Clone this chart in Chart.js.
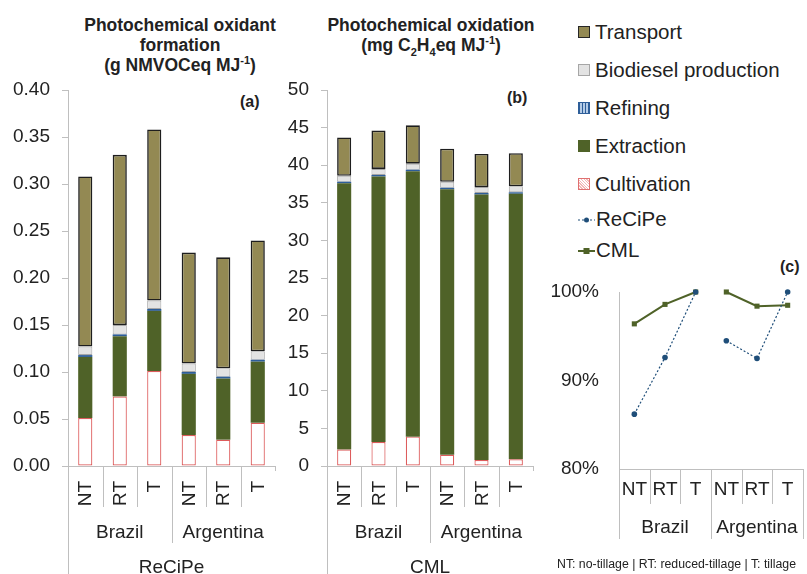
<!DOCTYPE html>
<html>
<head>
<meta charset="utf-8">
<script src="https://cdn.jsdelivr.net/npm/chart.js@4"></script>
<style>
  body { margin: 0; background: #fff; font-family: "Liberation Sans", Arial, sans-serif; color: #222; }
  #page { position: relative; width: 807px; height: 574px; overflow: hidden; }
  .cv { position: absolute; }
  .title { position: absolute; font-weight: bold; font-size: 17.5px; line-height: 20px; text-align: center; }
  .title sub, .title sup { font-size: 11px; line-height: 0; }
  .tag { position: absolute; font-weight: bold; font-size: 16px; }
  .leg { position: absolute; left: 578px; font-size: 20.5px; line-height: 22px; white-space: nowrap; }
  .sw { display: inline-block; width: 10px; height: 10px; margin-right: 5px; vertical-align: 1px; }
  .leg svg { vertical-align: 2px; margin-right: 1px; }
  .note { position: absolute; left: 557px; top: 557px; font-size: 12.3px; white-space: nowrap; }
</style>
</head>
<body>
<div id="page">
  <div class="title" style="left:50px; top:15px; width:260px;">Photochemical oxidant<br>formation<br>(g NMVOCeq MJ<sup>-1</sup>)</div>
  <div class="title" style="left:301px; top:15px; width:260px;">Photochemical oxidation<br>(mg C<sub>2</sub>H<sub>4</sub>eq MJ<sup>-1</sup>)</div>
  <div class="tag" style="left:240px; top:93px;">(a)</div>
  <div class="tag" style="left:507px; top:89px;">(b)</div>
  <div class="tag" style="left:780px; top:258px;">(c)</div>

  <div class="leg" style="top:21px;"><span class="sw" style="background:#938953; border:1px solid #262626;"></span>Transport</div>
  <div class="leg" style="top:59px;"><span class="sw" style="background:#e3e3e3; border:1px solid #a6a6a6;"></span>Biodiesel production</div>
  <div class="leg" style="top:97px;"><span class="sw" style="background:repeating-linear-gradient(90deg,#2e5e99 0 1px,#b4cbe6 1px 3px); border:1px solid #2e5e99;"></span>Refining</div>
  <div class="leg" style="top:135px;"><span class="sw" style="background:#4f6228; border:1px solid #4f6228;"></span>Extraction</div>
  <div class="leg" style="top:173px;"><span class="sw" style="background:repeating-linear-gradient(45deg,#f2b8b8 0 1px,#fff 1px 2px); border:1px solid #e07070;"></span>Cultivation</div>
  <div class="leg" style="top:208px;"><svg width="17" height="8"><line x1="0" y1="4" x2="17" y2="4" stroke="#1f4e79" stroke-width="1.2" stroke-dasharray="2,2"/><circle cx="8.5" cy="4" r="2.5" fill="#1f4e79"/></svg>ReCiPe</div>
  <div class="leg" style="top:239px;"><svg width="17" height="8"><line x1="0" y1="4" x2="17" y2="4" stroke="#4f6228" stroke-width="2"/><rect x="5.5" y="1" width="6" height="6" fill="#4f6228"/></svg>CML</div>

  <canvas id="chartA" class="cv" style="left:0; top:60px;" width="280" height="514"></canvas>
  <canvas id="chartB" class="cv" style="left:280px; top:60px;" width="258" height="514"></canvas>
  <canvas id="chartC" class="cv" style="left:540px; top:260px;" width="267" height="314"></canvas>

  <div class="note">NT: no-tillage | RT: reduced-tillage | T: tillage</div>
</div>

<script>
// categories
const tillage = ["NT", "RT", "T", "NT", "RT", "T"];
const countries = ["Brazil", "Argentina"];

// ReCiPe, g NMVOCeq per MJ (stack segments)
const recipeCultivation = [0.051, 0.074, 0.101, 0.033, 0.028, 0.046];
const recipeExtraction  = [0.065, 0.064, 0.064, 0.065, 0.065, 0.065];
const recipeRefining    = [0.002, 0.002, 0.002, 0.002, 0.002, 0.002];
const recipeBiodiesel   = [0.009, 0.010, 0.009, 0.009, 0.009, 0.009];
const recipeTransport   = [0.181, 0.181, 0.182, 0.118, 0.118, 0.118];

// CML, mg C2H4eq per MJ (stack segments)
const cmlCultivation = [2.2, 3.2, 3.9, 1.5, 0.8, 0.9];
const cmlExtraction  = [35.4, 35.3, 35.3, 35.3, 35.3, 35.3];
const cmlRefining    = [0.2, 0.2, 0.2, 0.2, 0.2, 0.2];
const cmlBiodiesel   = [0.8, 0.8, 0.8, 0.8, 0.8, 0.8];
const cmlTransport   = [5.1, 5.1, 5.1, 4.4, 4.4, 4.4];

// relative to the highest value within each country
const recipeShare = [0.862, 0.926, 1.0, 0.945, 0.925, 1.0];
const cmlShare    = [0.964, 0.986, 1.0, 1.0, 0.984, 0.985];

const FONT = "Liberation Sans";
const AXIS = "#bfbfbf";
Chart.defaults.font.family = FONT;
Chart.defaults.color = "#222";
Chart.defaults.animation = false;

// draws the nested category labels (tillage / country / method) under the x axis
const groupAxis = {
  id: "groupAxis",
  afterDraw(chart, args, opts) {
    const xs = chart.scales.x;
    const ctx = chart.ctx;
    const n = tillage.length;
    const w = (xs.right - xs.left) / n;
    const base = chart.chartArea.bottom;
    ctx.save();
    ctx.strokeStyle = AXIS;
    ctx.lineWidth = 1;
    opts.lines.forEach((len, k) => {
      const px = Math.round(xs.left + k * w) + 0.5;
      ctx.beginPath();
      ctx.moveTo(px, base);
      ctx.lineTo(px, base + len);
      ctx.stroke();
    });
    ctx.fillStyle = "#222";
    ctx.font = "19px '" + FONT + "'";
    tillage.forEach((t, i) => {
      const px = xs.getPixelForValue(i);
      if (opts.rotate) {
        ctx.save();
        ctx.translate(px + 1, base + opts.row1);
        ctx.rotate(-Math.PI / 2);
        ctx.textAlign = "right";
        ctx.textBaseline = "middle";
        ctx.fillText(t, 0, 0);
        ctx.restore();
      } else {
        ctx.textAlign = "center";
        ctx.textBaseline = "middle";
        ctx.fillText(t, px, base + opts.row1);
      }
    });
    ctx.textAlign = "center";
    ctx.textBaseline = "middle";
    countries.forEach((c, g) => {
      const px = xs.left + (g * 3 + 1.5) * w;
      ctx.fillText(c, px, base + opts.row2);
    });
    if (opts.method) {
      ctx.fillText(opts.method, (xs.left + xs.right) / 2, base + opts.row3);
    }
    ctx.restore();
  }
};

function barSets(cult, extr, refi, bio, trans) {
  const common = { categoryPercentage: 1, barPercentage: 0.41, borderSkipped: false };
  return [
    { label: "Cultivation", data: cult, backgroundColor: "#ffffff", borderColor: "#dd5c5c", borderWidth: 1.2, ...common },
    { label: "Extraction", data: extr, backgroundColor: "#4f6228", borderColor: "#4f6228", borderWidth: 0, ...common },
    { label: "Refining", data: refi, backgroundColor: "#2e5e99", borderColor: "#2e5e99", borderWidth: 0, ...common },
    { label: "Biodiesel production", data: bio, backgroundColor: "#e3e3e3", borderColor: "#a6a6a6", borderWidth: 1, ...common },
    { label: "Transport", data: trans, backgroundColor: "#938953", borderColor: "#1e1e1e", borderWidth: 1.6, ...common }
  ];
}

function barOptions(max, step, decimals, yWidth, lines, method) {
  return {
    responsive: false,
    layout: { padding: { top: 30, right: 5 } },
    plugins: {
      legend: { display: false },
      tooltip: { enabled: false },
      groupAxis: { lines: lines, rotate: true, row1: 15, row2: 67, row3: 102, method: method }
    },
    scales: {
      x: {
        stacked: true,
        grid: { display: false },
        border: { color: AXIS },
        ticks: { display: false },
        afterFit: s => { s.height = 108; }
      },
      y: {
        stacked: true,
        min: 0,
        max: max,
        grid: { drawOnChartArea: false, tickLength: 6, color: AXIS },
        border: { color: AXIS },
        ticks: { stepSize: step, padding: 12, font: { size: 19 }, callback: v => v.toFixed(decimals) },
        afterFit: s => { s.width = yWidth; }
      }
    }
  };
}

new Chart(document.getElementById("chartA"), {
  type: "bar",
  data: {
    labels: tillage,
    datasets: barSets(recipeCultivation, recipeExtraction, recipeRefining, recipeBiodiesel, recipeTransport)
  },
  options: barOptions(0.4, 0.05, 2, 68, [108, 41, 41, 77, 41, 41, 5], "ReCiPe"),
  plugins: [groupAxis]
});

new Chart(document.getElementById("chartB"), {
  type: "bar",
  data: {
    labels: tillage,
    datasets: barSets(cmlCultivation, cmlExtraction, cmlRefining, cmlBiodiesel, cmlTransport)
  },
  options: barOptions(50, 5, 0, 47, [108, 41, 41, 77, 41, 41, 5], "CML"),
  plugins: [groupAxis]
});

// no line between the Brazil and Argentina groups
const splitGroups = color => ({
  borderColor: ctx => (ctx.p0DataIndex === 2 ? "rgba(0,0,0,0)" : color)
});

new Chart(document.getElementById("chartC"), {
  type: "line",
  data: {
    labels: tillage,
    datasets: [
      {
        label: "ReCiPe", data: recipeShare, clip: false,
        borderColor: "#1f4e79", backgroundColor: "#1f4e79", borderWidth: 1.2, borderDash: [2, 2],
        pointStyle: "circle", pointRadius: 2.8, pointBorderWidth: 0,
        segment: splitGroups("#1f4e79")
      },
      {
        label: "CML", data: cmlShare, clip: false,
        borderColor: "#4f6228", backgroundColor: "#4f6228", borderWidth: 2,
        pointStyle: "rect", pointRadius: 3.6, pointBorderWidth: 0,
        segment: splitGroups("#4f6228")
      }
    ]
  },
  options: {
    responsive: false,
    layout: { padding: { top: 32, right: 2 } },
    plugins: {
      legend: { display: false },
      tooltip: { enabled: false },
      groupAxis: { lines: [70, 35, 35, 70, 35, 35, 70], rotate: false, row1: 21, row2: 59 }
    },
    scales: {
      x: {
        offset: true,
        grid: { display: false },
        border: { color: AXIS },
        ticks: { display: false },
        afterFit: s => { s.height = 105; }
      },
      y: {
        min: 0.8,
        max: 1.0,
        grid: { display: false, drawTicks: false },
        border: { color: AXIS },
        ticks: { stepSize: 0.1, padding: 20, font: { size: 19 }, callback: v => Math.round(v * 100) + "%" },
        afterFit: s => { s.width = 79; }
      }
    }
  },
  plugins: [groupAxis]
});
</script>
</body>
</html>
